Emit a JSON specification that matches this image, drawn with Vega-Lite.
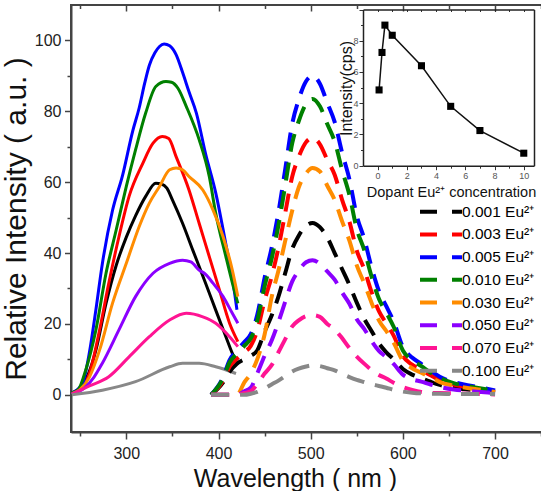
{
"$schema": "https://vega.github.io/schema/vega-lite/v6.json",
"width": 472,
"height": 427,
"autosize": {"type": "none"},
"padding": {"left": 71, "top": 5, "right": 0, "bottom": 59},
"config": {
  "view": {"stroke": "#444", "strokeWidth": 2},
  "axis": {"grid": false, "domainColor": "#444", "domainWidth": 2, "tickColor": "#444", "tickWidth": 1.5, "labelFont": "Liberation Sans", "titleFont": "Liberation Sans", "labelColor": "#222", "titleColor": "#111", "titleFontWeight": "normal"}
},
"layer": [
{
  "data": {"values": [
{"c":"0.001","k":"e","w":241,"v":0.5},{"c":"0.001","k":"e","w":250,"v":2},{"c":"0.001","k":"e","w":259,"v":6},{"c":"0.001","k":"e","w":267,"v":12.6},{"c":"0.001","k":"e","w":278,"v":25.8},{"c":"0.001","k":"e","w":289,"v":36.5},{"c":"0.001","k":"e","w":300,"v":44.5},{"c":"0.001","k":"e","w":310,"v":50.5},{"c":"0.001","k":"e","w":321,"v":56},{"c":"0.001","k":"e","w":332,"v":59.7},{"c":"0.001","k":"e","w":338,"v":59.5},{"c":"0.001","k":"e","w":344,"v":58.3},{"c":"0.001","k":"e","w":350,"v":55},{"c":"0.001","k":"e","w":361,"v":48.4},{"c":"0.001","k":"e","w":372,"v":40.9},{"c":"0.001","k":"e","w":386,"v":31.5},{"c":"0.001","k":"e","w":397,"v":23.9},{"c":"0.001","k":"e","w":408,"v":16.4},{"c":"0.001","k":"e","w":415,"v":11.7},{"c":"0.001","k":"e","w":420,"v":8.9},
{"c":"0.003","k":"e","w":241,"v":0.5},{"c":"0.003","k":"e","w":250,"v":1.5},{"c":"0.003","k":"e","w":260,"v":6},{"c":"0.003","k":"e","w":271,"v":18.3},{"c":"0.003","k":"e","w":281,"v":31.5},{"c":"0.003","k":"e","w":292,"v":44.6},{"c":"0.003","k":"e","w":303,"v":56},{"c":"0.003","k":"e","w":318,"v":65.4},{"c":"0.003","k":"e","w":329,"v":71},{"c":"0.003","k":"e","w":339,"v":72.9},{"c":"0.003","k":"e","w":346,"v":72.3},{"c":"0.003","k":"e","w":354,"v":67.2},{"c":"0.003","k":"e","w":368,"v":57.8},{"c":"0.003","k":"e","w":379,"v":48.4},{"c":"0.003","k":"e","w":390,"v":39},{"c":"0.003","k":"e","w":401,"v":29.6},{"c":"0.003","k":"e","w":412,"v":20.2},{"c":"0.003","k":"e","w":421,"v":15},
{"c":"0.005","k":"e","w":241,"v":0.5},{"c":"0.005","k":"e","w":247,"v":1.5},{"c":"0.005","k":"e","w":253,"v":3.5},{"c":"0.005","k":"e","w":260,"v":12},{"c":"0.005","k":"e","w":267,"v":24},{"c":"0.005","k":"e","w":274,"v":37},{"c":"0.005","k":"e","w":285,"v":52},{"c":"0.005","k":"e","w":296,"v":62},{"c":"0.005","k":"e","w":307,"v":74.5},{"c":"0.005","k":"e","w":314,"v":81},{"c":"0.005","k":"e","w":320,"v":88},{"c":"0.005","k":"e","w":325,"v":93},{"c":"0.005","k":"e","w":331,"v":96.5},{"c":"0.005","k":"e","w":336,"v":98.3},{"c":"0.005","k":"e","w":341,"v":99},{"c":"0.005","k":"e","w":347,"v":98.5},{"c":"0.005","k":"e","w":354,"v":96},{"c":"0.005","k":"e","w":361,"v":91},{"c":"0.005","k":"e","w":368,"v":85.5},{"c":"0.005","k":"e","w":376,"v":79.5},{"c":"0.005","k":"e","w":386,"v":68},{"c":"0.005","k":"e","w":397,"v":57},{"c":"0.005","k":"e","w":408,"v":42.5},{"c":"0.005","k":"e","w":415,"v":33},{"c":"0.005","k":"e","w":420,"v":24},
{"c":"0.010","k":"e","w":241,"v":0.5},{"c":"0.010","k":"e","w":248,"v":1.5},{"c":"0.010","k":"e","w":256,"v":7},{"c":"0.010","k":"e","w":267,"v":18.3},{"c":"0.010","k":"e","w":278,"v":34.3},{"c":"0.010","k":"e","w":289,"v":46.5},{"c":"0.010","k":"e","w":300,"v":58.8},{"c":"0.010","k":"e","w":310,"v":69.1},{"c":"0.010","k":"e","w":321,"v":79.5},{"c":"0.010","k":"e","w":332,"v":87},{"c":"0.010","k":"e","w":343,"v":88.4},{"c":"0.010","k":"e","w":349,"v":88.2},{"c":"0.010","k":"e","w":356,"v":86.5},{"c":"0.010","k":"e","w":365,"v":81.4},{"c":"0.010","k":"e","w":379,"v":72},{"c":"0.010","k":"e","w":390,"v":61.6},{"c":"0.010","k":"e","w":397,"v":51.2},{"c":"0.010","k":"e","w":408,"v":39},{"c":"0.010","k":"e","w":417,"v":29.6},{"c":"0.010","k":"e","w":421,"v":25.8},
{"c":"0.030","k":"e","w":241,"v":0.3},{"c":"0.030","k":"e","w":250,"v":1.5},{"c":"0.030","k":"e","w":260,"v":5},{"c":"0.030","k":"e","w":271,"v":12.6},{"c":"0.030","k":"e","w":285,"v":25.8},{"c":"0.030","k":"e","w":300,"v":37.1},{"c":"0.030","k":"e","w":314,"v":47.5},{"c":"0.030","k":"e","w":325,"v":54.1},{"c":"0.030","k":"e","w":336,"v":58.8},{"c":"0.030","k":"e","w":347,"v":63.5},{"c":"0.030","k":"e","w":354,"v":64},{"c":"0.030","k":"e","w":361,"v":63.5},{"c":"0.030","k":"e","w":368,"v":61.6},{"c":"0.030","k":"e","w":383,"v":57.8},{"c":"0.030","k":"e","w":394,"v":52.2},{"c":"0.030","k":"e","w":405,"v":44.6},{"c":"0.030","k":"e","w":415,"v":35.2},{"c":"0.030","k":"e","w":421,"v":27.7},
{"c":"0.050","k":"e","w":241,"v":0.2},{"c":"0.050","k":"e","w":255,"v":2},{"c":"0.050","k":"e","w":265,"v":5},{"c":"0.050","k":"e","w":274,"v":8.9},{"c":"0.050","k":"e","w":292,"v":18.3},{"c":"0.050","k":"e","w":310,"v":27.7},{"c":"0.050","k":"e","w":329,"v":34.3},{"c":"0.050","k":"e","w":347,"v":37.1},{"c":"0.050","k":"e","w":361,"v":38},{"c":"0.050","k":"e","w":370,"v":37.5},{"c":"0.050","k":"e","w":379,"v":35.2},{"c":"0.050","k":"e","w":386,"v":34},{"c":"0.050","k":"e","w":394,"v":31.5},{"c":"0.050","k":"e","w":405,"v":27.7},{"c":"0.050","k":"e","w":415,"v":23},{"c":"0.050","k":"e","w":421,"v":20.2},
{"c":"0.070","k":"e","w":241,"v":0.2},{"c":"0.070","k":"e","w":260,"v":2.5},{"c":"0.070","k":"e","w":281,"v":5.1},{"c":"0.070","k":"e","w":303,"v":10.7},{"c":"0.070","k":"e","w":325,"v":16.4},{"c":"0.070","k":"e","w":347,"v":21.1},{"c":"0.070","k":"e","w":365,"v":23},{"c":"0.070","k":"e","w":383,"v":22},{"c":"0.070","k":"e","w":397,"v":20.2},{"c":"0.070","k":"e","w":412,"v":16.4},{"c":"0.070","k":"e","w":421,"v":13.6},
{"c":"0.100","k":"e","w":241,"v":0},{"c":"0.100","k":"e","w":274,"v":1.3},{"c":"0.100","k":"e","w":310,"v":3.7},{"c":"0.100","k":"e","w":347,"v":7.9},{"c":"0.100","k":"e","w":361,"v":8.9},{"c":"0.100","k":"e","w":379,"v":8.9},{"c":"0.100","k":"e","w":397,"v":7.9},{"c":"0.100","k":"e","w":419,"v":6},
{"c":"0.001","k":"m","w":392,"v":0},{"c":"0.001","k":"m","w":405,"v":3.5},{"c":"0.001","k":"m","w":412,"v":6.5},{"c":"0.001","k":"m","w":420,"v":8.8},{"c":"0.001","k":"m","w":428,"v":10},{"c":"0.001","k":"m","w":435,"v":11},{"c":"0.001","k":"m","w":442,"v":12.5},{"c":"0.001","k":"m","w":450,"v":17.8},{"c":"0.001","k":"m","w":458,"v":22.6},{"c":"0.001","k":"m","w":465,"v":27.7},{"c":"0.001","k":"m","w":472,"v":34},{"c":"0.001","k":"m","w":480,"v":41.2},{"c":"0.001","k":"m","w":487,"v":44.9},{"c":"0.001","k":"m","w":495,"v":47.7},{"c":"0.001","k":"m","w":502,"v":48.5},{"c":"0.001","k":"m","w":510,"v":47.3},{"c":"0.001","k":"m","w":518,"v":44.4},{"c":"0.001","k":"m","w":526,"v":40},{"c":"0.001","k":"m","w":534,"v":35.5},{"c":"0.001","k":"m","w":542,"v":31},{"c":"0.001","k":"m","w":550,"v":26},{"c":"0.001","k":"m","w":558,"v":21.5},{"c":"0.001","k":"m","w":566,"v":18},{"c":"0.001","k":"m","w":574,"v":14.5},{"c":"0.001","k":"m","w":582,"v":12},{"c":"0.001","k":"m","w":590,"v":10},{"c":"0.001","k":"m","w":600,"v":7.3},{"c":"0.001","k":"m","w":610,"v":5.7},{"c":"0.001","k":"m","w":620,"v":4.7},{"c":"0.001","k":"m","w":630,"v":3.7},{"c":"0.001","k":"m","w":640,"v":2.8},{"c":"0.001","k":"m","w":655,"v":1.9},{"c":"0.001","k":"m","w":670,"v":1.5},{"c":"0.001","k":"m","w":685,"v":1.1},{"c":"0.001","k":"m","w":700,"v":0.6},
{"c":"0.003","k":"m","w":392,"v":0},{"c":"0.003","k":"m","w":405,"v":4.1},{"c":"0.003","k":"m","w":412,"v":7.9},{"c":"0.003","k":"m","w":420,"v":10.2},{"c":"0.003","k":"m","w":428,"v":12},{"c":"0.003","k":"m","w":435,"v":13.8},{"c":"0.003","k":"m","w":442,"v":18.1},{"c":"0.003","k":"m","w":450,"v":26.6},{"c":"0.003","k":"m","w":458,"v":33.7},{"c":"0.003","k":"m","w":465,"v":41.5},{"c":"0.003","k":"m","w":472,"v":50.8},{"c":"0.003","k":"m","w":480,"v":61.6},{"c":"0.003","k":"m","w":487,"v":67.1},{"c":"0.003","k":"m","w":495,"v":71.3},{"c":"0.003","k":"m","w":502,"v":72.5},{"c":"0.003","k":"m","w":510,"v":70.7},{"c":"0.003","k":"m","w":518,"v":66.3},{"c":"0.003","k":"m","w":526,"v":62.1},{"c":"0.003","k":"m","w":534,"v":55.1},{"c":"0.003","k":"m","w":542,"v":48.9},{"c":"0.003","k":"m","w":550,"v":40.7},{"c":"0.003","k":"m","w":558,"v":35.5},{"c":"0.003","k":"m","w":566,"v":29},{"c":"0.003","k":"m","w":574,"v":23.6},{"c":"0.003","k":"m","w":582,"v":20.2},{"c":"0.003","k":"m","w":590,"v":16.7},{"c":"0.003","k":"m","w":600,"v":10.9},{"c":"0.003","k":"m","w":610,"v":8.5},{"c":"0.003","k":"m","w":620,"v":7},{"c":"0.003","k":"m","w":630,"v":5.5},{"c":"0.003","k":"m","w":640,"v":4.1},{"c":"0.003","k":"m","w":655,"v":2.9},{"c":"0.003","k":"m","w":670,"v":2.2},{"c":"0.003","k":"m","w":685,"v":1.6},{"c":"0.003","k":"m","w":700,"v":0.9},
{"c":"0.005","k":"m","w":392,"v":0},{"c":"0.005","k":"m","w":405,"v":5},{"c":"0.005","k":"m","w":412,"v":9.8},{"c":"0.005","k":"m","w":420,"v":12.6},{"c":"0.005","k":"m","w":428,"v":14.9},{"c":"0.005","k":"m","w":435,"v":17.1},{"c":"0.005","k":"m","w":442,"v":22.5},{"c":"0.005","k":"m","w":450,"v":33},{"c":"0.005","k":"m","w":458,"v":41.9},{"c":"0.005","k":"m","w":465,"v":51.5},{"c":"0.005","k":"m","w":472,"v":63},{"c":"0.005","k":"m","w":480,"v":76.5},{"c":"0.005","k":"m","w":487,"v":83.3},{"c":"0.005","k":"m","w":495,"v":88.5},{"c":"0.005","k":"m","w":502,"v":90},{"c":"0.005","k":"m","w":510,"v":87.8},{"c":"0.005","k":"m","w":518,"v":82.4},{"c":"0.005","k":"m","w":526,"v":77},{"c":"0.005","k":"m","w":534,"v":68.4},{"c":"0.005","k":"m","w":542,"v":60.8},{"c":"0.005","k":"m","w":550,"v":50.5},{"c":"0.005","k":"m","w":558,"v":44.1},{"c":"0.005","k":"m","w":566,"v":36},{"c":"0.005","k":"m","w":574,"v":29.3},{"c":"0.005","k":"m","w":582,"v":25},{"c":"0.005","k":"m","w":590,"v":20.7},{"c":"0.005","k":"m","w":600,"v":13.5},{"c":"0.005","k":"m","w":610,"v":10.5},{"c":"0.005","k":"m","w":620,"v":8.7},{"c":"0.005","k":"m","w":630,"v":6.8},{"c":"0.005","k":"m","w":640,"v":5.1},{"c":"0.005","k":"m","w":655,"v":3.6},{"c":"0.005","k":"m","w":670,"v":2.7},{"c":"0.005","k":"m","w":685,"v":2},{"c":"0.005","k":"m","w":700,"v":1.2},
{"c":"0.010","k":"m","w":392,"v":0},{"c":"0.010","k":"m","w":405,"v":4.7},{"c":"0.010","k":"m","w":412,"v":9.1},{"c":"0.010","k":"m","w":420,"v":11.7},{"c":"0.010","k":"m","w":428,"v":13.8},{"c":"0.010","k":"m","w":435,"v":15.9},{"c":"0.010","k":"m","w":442,"v":20.9},{"c":"0.010","k":"m","w":450,"v":30.6},{"c":"0.010","k":"m","w":458,"v":38.8},{"c":"0.010","k":"m","w":465,"v":47.8},{"c":"0.010","k":"m","w":472,"v":58.5},{"c":"0.010","k":"m","w":480,"v":71},{"c":"0.010","k":"m","w":487,"v":77.2},{"c":"0.010","k":"m","w":495,"v":82.1},{"c":"0.010","k":"m","w":502,"v":83.5},{"c":"0.010","k":"m","w":510,"v":81.4},{"c":"0.010","k":"m","w":518,"v":76.4},{"c":"0.010","k":"m","w":526,"v":71.5},{"c":"0.010","k":"m","w":534,"v":63.5},{"c":"0.010","k":"m","w":542,"v":56.4},{"c":"0.010","k":"m","w":550,"v":46.8},{"c":"0.010","k":"m","w":558,"v":40.9},{"c":"0.010","k":"m","w":566,"v":33.4},{"c":"0.010","k":"m","w":574,"v":27.1},{"c":"0.010","k":"m","w":582,"v":23.2},{"c":"0.010","k":"m","w":590,"v":19.2},{"c":"0.010","k":"m","w":600,"v":12.5},{"c":"0.010","k":"m","w":610,"v":9.8},{"c":"0.010","k":"m","w":620,"v":8.1},{"c":"0.010","k":"m","w":630,"v":6.3},{"c":"0.010","k":"m","w":640,"v":4.8},{"c":"0.010","k":"m","w":655,"v":3.3},{"c":"0.010","k":"m","w":670,"v":2.5},{"c":"0.010","k":"m","w":685,"v":1.8},{"c":"0.010","k":"m","w":700,"v":1.1},
{"c":"0.030","k":"m","w":392,"v":0},{"c":"0.030","k":"m","w":405,"v":0},{"c":"0.030","k":"m","w":412,"v":0},{"c":"0.030","k":"m","w":420,"v":0},{"c":"0.030","k":"m","w":428,"v":3.5},{"c":"0.030","k":"m","w":435,"v":6},{"c":"0.030","k":"m","w":442,"v":10},{"c":"0.030","k":"m","w":450,"v":17},{"c":"0.030","k":"m","w":458,"v":28},{"c":"0.030","k":"m","w":465,"v":35},{"c":"0.030","k":"m","w":472,"v":43},{"c":"0.030","k":"m","w":480,"v":52},{"c":"0.030","k":"m","w":487,"v":58.5},{"c":"0.030","k":"m","w":495,"v":62.5},{"c":"0.030","k":"m","w":502,"v":64},{"c":"0.030","k":"m","w":510,"v":63},{"c":"0.030","k":"m","w":518,"v":59},{"c":"0.030","k":"m","w":526,"v":55},{"c":"0.030","k":"m","w":534,"v":49},{"c":"0.030","k":"m","w":542,"v":43.5},{"c":"0.030","k":"m","w":550,"v":36.5},{"c":"0.030","k":"m","w":558,"v":31.5},{"c":"0.030","k":"m","w":566,"v":26},{"c":"0.030","k":"m","w":574,"v":21},{"c":"0.030","k":"m","w":582,"v":18},{"c":"0.030","k":"m","w":590,"v":14.7},{"c":"0.030","k":"m","w":600,"v":9.6},{"c":"0.030","k":"m","w":610,"v":7.5},{"c":"0.030","k":"m","w":620,"v":6.2},{"c":"0.030","k":"m","w":630,"v":4.9},{"c":"0.030","k":"m","w":640,"v":3.6},{"c":"0.030","k":"m","w":655,"v":2.6},{"c":"0.030","k":"m","w":670,"v":1.9},{"c":"0.030","k":"m","w":685,"v":1.4},{"c":"0.030","k":"m","w":700,"v":0.8},
{"c":"0.050","k":"m","w":392,"v":0},{"c":"0.050","k":"m","w":405,"v":0},{"c":"0.050","k":"m","w":412,"v":0},{"c":"0.050","k":"m","w":420,"v":0},{"c":"0.050","k":"m","w":428,"v":1},{"c":"0.050","k":"m","w":435,"v":2},{"c":"0.050","k":"m","w":442,"v":6},{"c":"0.050","k":"m","w":450,"v":11},{"c":"0.050","k":"m","w":458,"v":15.5},{"c":"0.050","k":"m","w":465,"v":20.5},{"c":"0.050","k":"m","w":472,"v":26},{"c":"0.050","k":"m","w":480,"v":32},{"c":"0.050","k":"m","w":487,"v":35},{"c":"0.050","k":"m","w":495,"v":37.4},{"c":"0.050","k":"m","w":502,"v":38},{"c":"0.050","k":"m","w":510,"v":37},{"c":"0.050","k":"m","w":518,"v":34.8},{"c":"0.050","k":"m","w":526,"v":32.5},{"c":"0.050","k":"m","w":534,"v":28.9},{"c":"0.050","k":"m","w":542,"v":25.7},{"c":"0.050","k":"m","w":550,"v":21.3},{"c":"0.050","k":"m","w":558,"v":18.6},{"c":"0.050","k":"m","w":566,"v":15.2},{"c":"0.050","k":"m","w":574,"v":12.4},{"c":"0.050","k":"m","w":582,"v":10.6},{"c":"0.050","k":"m","w":590,"v":8.7},{"c":"0.050","k":"m","w":600,"v":5.7},{"c":"0.050","k":"m","w":610,"v":4.4},{"c":"0.050","k":"m","w":620,"v":3.7},{"c":"0.050","k":"m","w":630,"v":2.9},{"c":"0.050","k":"m","w":640,"v":2.2},{"c":"0.050","k":"m","w":655,"v":1.5},{"c":"0.050","k":"m","w":670,"v":1.1},{"c":"0.050","k":"m","w":685,"v":0.8},{"c":"0.050","k":"m","w":700,"v":0.5},
{"c":"0.070","k":"m","w":392,"v":0},{"c":"0.070","k":"m","w":405,"v":0},{"c":"0.070","k":"m","w":412,"v":0},{"c":"0.070","k":"m","w":420,"v":0},{"c":"0.070","k":"m","w":428,"v":0.5},{"c":"0.070","k":"m","w":435,"v":1},{"c":"0.070","k":"m","w":442,"v":3},{"c":"0.070","k":"m","w":450,"v":6},{"c":"0.070","k":"m","w":458,"v":8.5},{"c":"0.070","k":"m","w":465,"v":12},{"c":"0.070","k":"m","w":472,"v":15.5},{"c":"0.070","k":"m","w":480,"v":19.3},{"c":"0.070","k":"m","w":487,"v":21},{"c":"0.070","k":"m","w":495,"v":22.2},{"c":"0.070","k":"m","w":502,"v":22.5},{"c":"0.070","k":"m","w":510,"v":22},{"c":"0.070","k":"m","w":518,"v":20},{"c":"0.070","k":"m","w":526,"v":18.5},{"c":"0.070","k":"m","w":534,"v":16},{"c":"0.070","k":"m","w":542,"v":13.2},{"c":"0.070","k":"m","w":550,"v":10.8},{"c":"0.070","k":"m","w":558,"v":8.8},{"c":"0.070","k":"m","w":566,"v":7},{"c":"0.070","k":"m","w":574,"v":5.6},{"c":"0.070","k":"m","w":582,"v":4.6},{"c":"0.070","k":"m","w":590,"v":3.4},{"c":"0.070","k":"m","w":600,"v":2.2},{"c":"0.070","k":"m","w":610,"v":1.4},{"c":"0.070","k":"m","w":620,"v":0.8},{"c":"0.070","k":"m","w":630,"v":0.5},{"c":"0.070","k":"m","w":640,"v":0.5},{"c":"0.070","k":"m","w":655,"v":0.4},{"c":"0.070","k":"m","w":670,"v":0.3},{"c":"0.070","k":"m","w":685,"v":0.2},{"c":"0.070","k":"m","w":700,"v":0.1},
{"c":"0.100","k":"m","w":392,"v":0},{"c":"0.100","k":"m","w":405,"v":0},{"c":"0.100","k":"m","w":412,"v":0},{"c":"0.100","k":"m","w":420,"v":0},{"c":"0.100","k":"m","w":428,"v":0},{"c":"0.100","k":"m","w":435,"v":0.3},{"c":"0.100","k":"m","w":442,"v":0.8},{"c":"0.100","k":"m","w":450,"v":1.8},{"c":"0.100","k":"m","w":458,"v":3},{"c":"0.100","k":"m","w":465,"v":4},{"c":"0.100","k":"m","w":472,"v":5.2},{"c":"0.100","k":"m","w":480,"v":6.6},{"c":"0.100","k":"m","w":487,"v":7.4},{"c":"0.100","k":"m","w":495,"v":8},{"c":"0.100","k":"m","w":502,"v":8.3},{"c":"0.100","k":"m","w":510,"v":8.1},{"c":"0.100","k":"m","w":518,"v":7.5},{"c":"0.100","k":"m","w":526,"v":6.9},{"c":"0.100","k":"m","w":534,"v":5.9},{"c":"0.100","k":"m","w":542,"v":5},{"c":"0.100","k":"m","w":550,"v":4.2},{"c":"0.100","k":"m","w":558,"v":3.6},{"c":"0.100","k":"m","w":566,"v":3},{"c":"0.100","k":"m","w":574,"v":2.5},{"c":"0.100","k":"m","w":582,"v":2},{"c":"0.100","k":"m","w":590,"v":1.4},{"c":"0.100","k":"m","w":600,"v":0.9},{"c":"0.100","k":"m","w":610,"v":0.6},{"c":"0.100","k":"m","w":620,"v":0.4},{"c":"0.100","k":"m","w":630,"v":0.3},{"c":"0.100","k":"m","w":640,"v":0.3},{"c":"0.100","k":"m","w":655,"v":0.2},{"c":"0.100","k":"m","w":670,"v":0.2},{"c":"0.100","k":"m","w":685,"v":0.2},{"c":"0.100","k":"m","w":700,"v":0.2}
  ]},
  "encoding": {
    "y": {"field": "v", "type": "quantitative",
      "scale": {"domain": [-10.5, 110], "nice": false, "zero": false},
      "axis": {"orient": "left", "values": [0,10,20,30,40,50,60,70,80,90,100],
        "labelExpr": "datum.value % 20 === 0 ? datum.label : ''",
        "tickSize": {"condition": {"test": "datum.value % 20 === 0", "value": 6.5}, "value": 4},
        "labelFontSize": 16, "labelPadding": 3.5,
        "title": "Relative Intensity ( a.u. )", "titleFontSize": 30,
        "titleX": -46, "titleY": 213.5, "titleAngle": -90, "titleAlign": "center", "titleBaseline": "alphabetic"}},
    "color": {"field": "c", "type": "nominal",
      "scale": {"domain": ["0.001","0.003","0.005","0.010","0.030","0.050","0.070","0.100"],
        "range": ["#000000","#ff0000","#0000ff","#008000","#ff8c00","#8b00ff","#ff1493","#888888"]},
      "legend": {"orient": "none", "legendX": 349, "legendY": 199, "title": null, "padding": 0,
        "symbolType": "M-4.2,0H4.2", "symbolSize": 100, "symbolStrokeWidth": 4,
        "symbolDash": [17, 15, 10, 60], "symbolOffset": 13.25, "labelOffset": 13.25,
        "labelFont": "Liberation Sans", "labelFontSize": 15.5, "labelColor": "#000",
        "rowPadding": 4.7, "labelExpr": "datum.label + ' Eu²⁺'", "labelLimit": 200}}
  },
  "layer": [
    {"transform": [{"filter": "datum.k === 'e'"}],
     "mark": {"type": "line", "strokeWidth": 3, "interpolate": "monotone"},
     "encoding": {"x": {"field": "w", "type": "quantitative",
        "scale": {"domain": [240, 752], "nice": false, "zero": false},
        "axis": {"orient": "bottom", "values": [250,300,350,400,450,500,550,600,650,700,750],
          "labelExpr": "datum.value % 100 === 0 ? datum.label : ''",
          "tickSize": {"condition": {"test": "datum.value % 100 === 0", "value": 7}, "value": 4},
          "labelFontSize": 16, "labelPadding": 6, "labelFlush": false,
          "title": "Wavelength ( nm )", "titleFontSize": 25, "titleX": 224, "titleY": 54,
          "titleAlign": "center", "titleBaseline": "alphabetic"}}}},
    {"transform": [{"filter": "datum.k === 'm'"}],
     "mark": {"type": "line", "strokeWidth": 4, "strokeDash": [18, 11], "interpolate": "monotone"},
     "encoding": {"x": {"field": "w", "type": "quantitative",
        "scale": {"domain": [240, 752], "nice": false, "zero": false},
        "axis": {"orient": "top", "values": [250,300,350,400,450,500,550,600,650,700,750],
          "labels": false, "domain": false, "title": null,
          "tickSize": {"condition": {"test": "datum.value % 100 === 0", "value": -6}, "value": -3.5}}}}}
  ],
  "resolve": {"axis": {"x": "independent"}}
},
{
  "data": {"values": [
    {"conc": 0.1, "cps": 4.85}, {"conc": 0.3, "cps": 7.25}, {"conc": 0.5, "cps": 9.0}, {"conc": 1, "cps": 8.35},
    {"conc": 3, "cps": 6.4}, {"conc": 5, "cps": 3.8}, {"conc": 7, "cps": 2.25}, {"conc": 10, "cps": 0.8}]},
  "layer": [
    {"mark": {"type": "line", "color": "#111", "strokeWidth": 1.5},
     "encoding": {
       "x": {"field": "conc", "type": "quantitative",
         "scale": {"domain": [-1, 10.7], "range": [292, 463], "nice": false, "zero": false},
         "axis": {"orient": "bottom", "offset": -266.3, "values": [0,1,2,3,4,5,6,7,8,9,10],
           "labelExpr": "datum.value % 2 === 0 ? datum.label : ''",
           "tickSize": {"condition": {"test": "datum.value % 2 === 0", "value": 4}, "value": 2.5},
           "tickWidth": 1, "tickColor": "#333", "domainColor": "#222", "domainWidth": 1.5,
           "labelFontSize": 9, "labelColor": "#555", "labelPadding": 2, "labelFlush": false,
           "title": "Dopant Eu²⁺ concentration", "titleFontSize": 14.5,
           "titleX": 380, "titleY": 31, "titleAlign": "center", "titleBaseline": "alphabetic"}},
       "y": {"field": "cps", "type": "quantitative",
         "scale": {"domain": [0, 10], "range": [160.7, 4.5], "nice": false, "zero": false},
         "axis": {"orient": "left", "offset": -292, "values": [0,1,2,3,4,5,6,7,8,9,10],
           "labelExpr": "datum.value % 2 === 0 && datum.value < 10 ? datum.label : ''",
           "tickSize": {"condition": {"test": "datum.value % 2 === 0", "value": 4}, "value": 2.5},
           "tickWidth": 1, "tickColor": "#333", "domainColor": "#222", "domainWidth": 1.5,
           "labelFontSize": 9, "labelColor": "#555", "labelPadding": 1,
           "title": "Intensity(cps)", "titleFontSize": 16,
           "titleX": -12, "titleY": 83, "titleAngle": -90, "titleAlign": "center", "titleBaseline": "alphabetic"}}}},
    {"mark": {"type": "square", "color": "#000", "size": 50, "opacity": 1},
     "encoding": {
       "x": {"field": "conc", "type": "quantitative",
         "scale": {"domain": [-1, 10.7], "range": [292, 463], "nice": false, "zero": false},
         "axis": {"orient": "top", "offset": -4.5, "values": [0,1,2,3,4,5,6,7,8,9,10], "labels": false, "title": null,
           "tickSize": -2, "tickWidth": 1, "tickColor": "#333", "domainColor": "#222", "domainWidth": 1.5}},
       "y": {"field": "cps", "type": "quantitative",
         "scale": {"domain": [0, 10], "range": [160.7, 4.5], "nice": false, "zero": false},
         "axis": {"orient": "right", "offset": -9, "labels": false, "ticks": false, "title": null,
           "domainColor": "#222", "domainWidth": 1.5}}}}
  ],
  "resolve": {"axis": {"x": "independent", "y": "independent"}}
}
],
"resolve": {"scale": {"x": "independent", "y": "independent"}}
}
